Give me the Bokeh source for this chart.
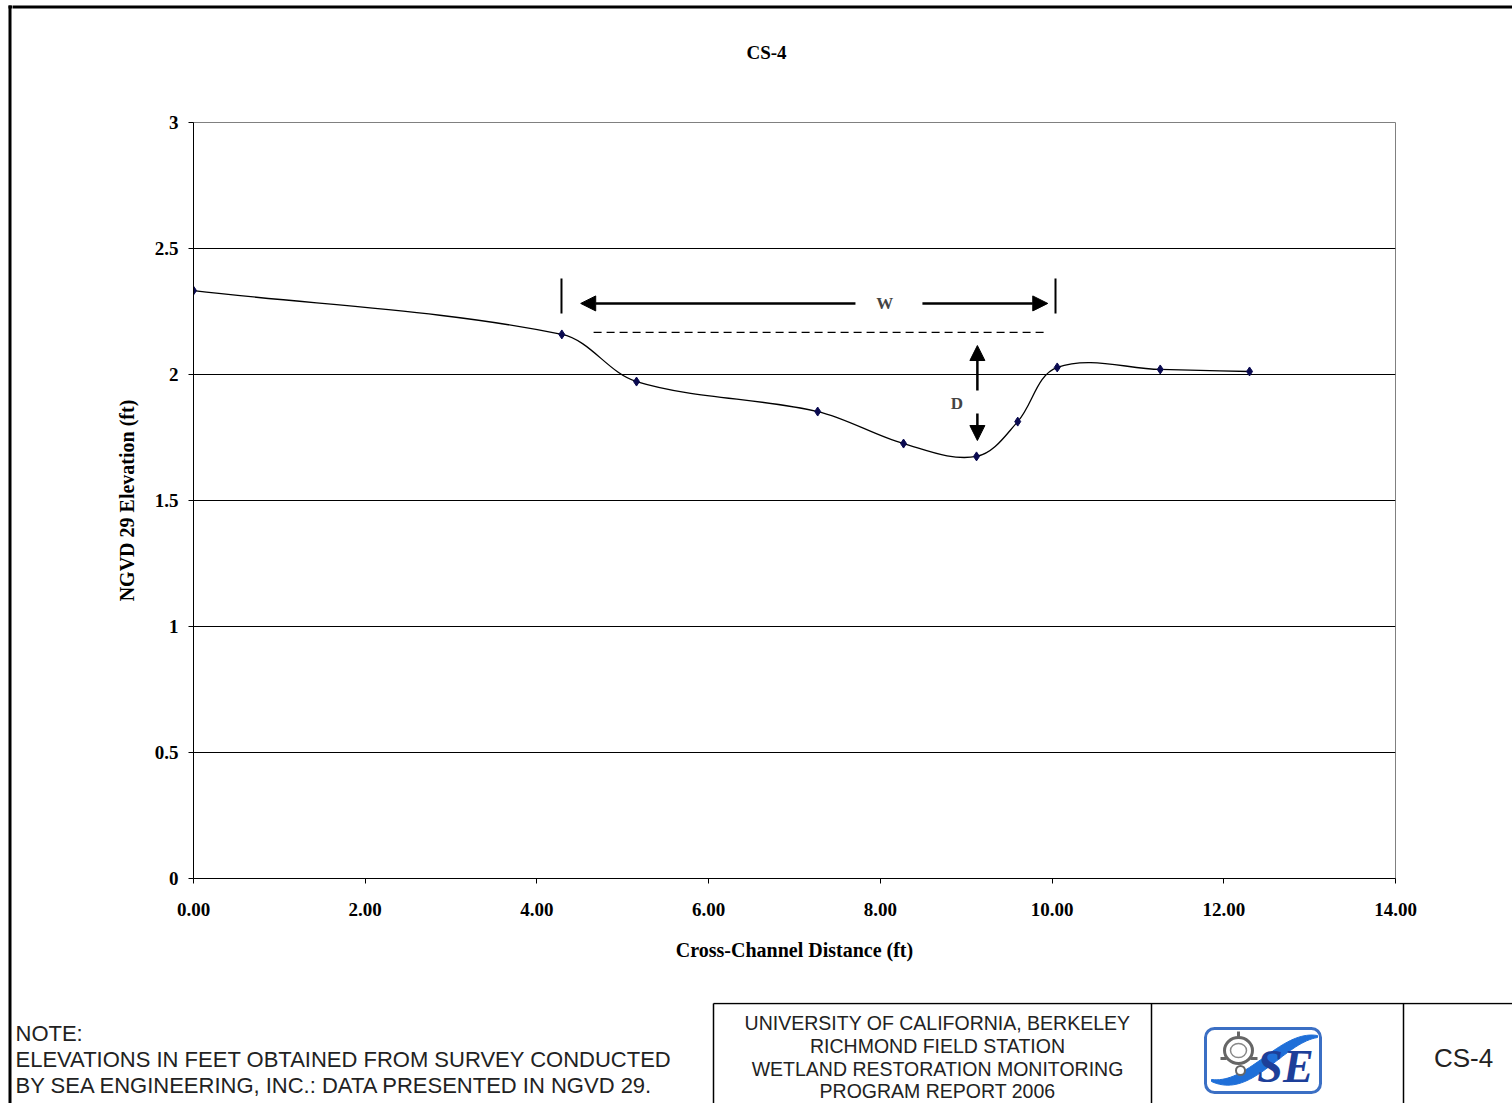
import numpy as np
from bokeh.plotting import figure
from bokeh.layouts import row, column
from bokeh.models import (FixedTicker, NumeralTickFormatter, Label, Arrow, NormalHead, Range1d)
from bokeh.core.properties import value
from bokeh.embed import file_html
from bokeh.resources import INLINE

# ---- data ----
distance = [0.00, 4.29, 5.16, 7.27, 8.27, 9.12, 9.60, 10.06, 11.26, 12.30]
elevation = [2.333, 2.159, 1.972, 1.853, 1.726, 1.675, 1.813, 2.028, 2.020, 2.012]

x_ticks = [0, 2, 4, 6, 8, 10, 12, 14]
y_ticks = [0, 0.5, 1, 1.5, 2, 2.5, 3]

# W / D dimension annotation (data units)
w_bar_x = [4.286, 10.04]
w_bar_y = [2.242, 2.381]
w_arrow_y = 2.282
w_left_arrow = [7.71, 4.51]
w_right_arrow = [8.49, 9.95]
w_label_x = 8.05
water_level = 2.167
water_x = [4.66, 9.92]
d_x = 9.13
d_up_arrow = [1.937, 2.115]
d_down_arrow = [1.845, 1.738]
d_label = [8.89, 1.885]

title_text = "CS-4"
note_lines = ["NOTE:",
              "ELEVATIONS IN FEET OBTAINED FROM SURVEY CONDUCTED",
              "BY SEA ENGINEERING, INC.: DATA PRESENTED IN NGVD 29."]
block_lines = ["UNIVERSITY OF CALIFORNIA, BERKELEY", "RICHMOND FIELD STATION",
               "WETLAND RESTORATION MONITORING", "PROGRAM REPORT 2006"]
sheet_id = "CS-4"

W, H = 1512, 1103
LEFT_W = 12
TOP_H = 100
BOT_H = 101
FL, FR, FT, FB = 193, 1395, 122, 878
CHART_H = H - TOP_H - BOT_H
SERIF = "Liberation Serif"
SANS = "Liberation Sans"


def blank(width, height, x0, x1, y0, y1):
    f = figure(width=width, height=height, x_range=Range1d(x0, x1), y_range=Range1d(y1, y0),
               output_backend="svg", toolbar_location=None, min_border=0,
               frame_align=False)
    f.axis.visible = False
    f.grid.visible = False
    f.outline_line_color = None
    f.background_fill_color = "white"
    f.border_fill_color = "white"
    return f


# ---- left border strip ----
left = blank(LEFT_W, H, 0, LEFT_W, 0, H)
left.quad(left=[8], right=[11], top=[5], bottom=[H + 5], fill_color="black", line_color=None)
left.quad(left=[8], right=[LEFT_W + 1], top=[5], bottom=[8], fill_color="black", line_color=None)

# ---- top strip (border + title) ----
top = blank(W - LEFT_W, TOP_H, LEFT_W, W, 0, TOP_H)
top.quad(left=[LEFT_W - 1], right=[W + 1], top=[5], bottom=[8], fill_color="black", line_color=None)
top.text(x=[766], y=[52], text=[title_text], text_font=value(SERIF), text_font_style="bold",
         text_font_size="19px", text_align="center", text_baseline="middle", text_color="black")

# ---- chart ----
p = figure(width=W - LEFT_W, height=CHART_H, x_range=(0, 14), y_range=(0, 3),
           output_backend="svg", toolbar_location=None, frame_align=False,
           min_border_left=FL - LEFT_W, min_border_right=W - FR,
           min_border_top=FT - TOP_H, min_border_bottom=(H - BOT_H) - FB)
p.background_fill_color = "white"
p.border_fill_color = "white"
p.outline_line_color = "#808080"
p.outline_line_width = 1

p.xaxis.ticker = FixedTicker(ticks=x_ticks)
p.xaxis.formatter = NumeralTickFormatter(format="0.00")
p.yaxis.ticker = FixedTicker(ticks=y_ticks)
p.yaxis.formatter = NumeralTickFormatter(format="0.[0]")
for ax in (p.xaxis, p.yaxis):
    ax.axis_line_color = "black"
    ax.axis_line_width = 1
    ax.major_tick_line_color = "black"
    ax.major_tick_in = 0
    ax.major_tick_out = 5
    ax.minor_tick_line_color = None
    ax.major_label_text_font = SERIF
    ax.major_label_text_font_style = "bold"
    ax.major_label_text_font_size = "19px"
    ax.major_label_text_color = "black"
    ax.axis_label_text_font = SERIF
    ax.axis_label_text_font_style = "bold"
    ax.axis_label_text_font_size = "20px"
    ax.axis_label_text_color = "black"
p.xaxis.axis_label = "Cross-Channel Distance (ft)"
p.yaxis.axis_label = "NGVD 29 Elevation (ft)"
p.xaxis.major_label_standoff = 19
p.xaxis.axis_label_standoff = 20
p.yaxis.major_label_standoff = 10
p.yaxis.axis_label_standoff = 14

p.xgrid.grid_line_color = None
p.ygrid.ticker = FixedTicker(ticks=[0.5, 1, 1.5, 2, 2.5])
p.ygrid.grid_line_color = "black"
p.ygrid.grid_line_width = 1

# smoothed line: chord-length Catmull-Rom bezier through the survey points
kx = (FR - FL) / 14.0
ky = (FB - FT) / 3.0
xa = np.array(distance) * kx
ya = np.array(elevation) * ky
n = len(xa)
d = np.hypot(np.diff(xa), np.diff(ya))
tx = np.zeros(n)
ty = np.zeros(n)
for i in range(n):
    a = max(i - 1, 0)
    b = min(i + 1, n - 1)
    L = np.hypot(xa[b] - xa[a], ya[b] - ya[a])
    tx[i] = (xa[b] - xa[a]) / L
    ty[i] = (ya[b] - ya[a]) / L
k = 1.0 / 3.0
x0s = xa[:-1] / kx
y0s = ya[:-1] / ky
x1s = xa[1:] / kx
y1s = ya[1:] / ky
cx0 = (xa[:-1] + tx[:-1] * d * k) / kx
cy0 = (ya[:-1] + ty[:-1] * d * k) / ky
cx1 = (xa[1:] - tx[1:] * d * k) / kx
cy1 = (ya[1:] - ty[1:] * d * k) / ky
p.bezier(x0=x0s, y0=y0s, x1=x1s, y1=y1s, cx0=cx0, cy0=cy0, cx1=cx1, cy1=cy1,
         line_color="black", line_width=1.3)
p.scatter(distance, elevation, marker="diamond", size=9,
          fill_color="#0a0a50", line_color="#0a0a50")

# W / D annotation
for bx in w_bar_x:
    p.segment(x0=[bx], y0=[w_bar_y[0]], x1=[bx], y1=[w_bar_y[1]], line_color="black", line_width=2)
p.segment(x0=[water_x[0]], y0=[water_level], x1=[water_x[1]], y1=[water_level],
          line_color="black", line_width=1.2, line_dash="8 5")
head = dict(size=15, fill_color="black", line_color="black")
p.add_layout(Arrow(end=NormalHead(**head), x_start=w_left_arrow[0], y_start=w_arrow_y,
                   x_end=w_left_arrow[1], y_end=w_arrow_y, line_width=2.5))
p.add_layout(Arrow(end=NormalHead(**head), x_start=w_right_arrow[0], y_start=w_arrow_y,
                   x_end=w_right_arrow[1], y_end=w_arrow_y, line_width=2.5))
p.add_layout(Arrow(end=NormalHead(**head), x_start=d_x, y_start=d_up_arrow[0],
                   x_end=d_x, y_end=d_up_arrow[1], line_width=2.5))
p.add_layout(Arrow(end=NormalHead(**head), x_start=d_x, y_start=d_down_arrow[0],
                   x_end=d_x, y_end=d_down_arrow[1], line_width=2.5))
p.add_layout(Label(x=w_label_x, y=w_arrow_y, text="W", text_font=SERIF, text_font_style="bold",
                   text_font_size="17px", text_align="center", text_baseline="middle"))
p.add_layout(Label(x=d_label[0], y=d_label[1], text="D", text_font=SERIF, text_font_style="bold",
                   text_font_size="17px", text_align="center", text_baseline="middle"))

# ---- bottom strip: note + title block ----
Y0 = H - BOT_H
bot = blank(W - LEFT_W, BOT_H, LEFT_W, W, Y0, H)
bot.text(x=[15, 15, 15], y=[1033, 1059, 1085], text=note_lines, text_font=value(SANS),
         text_font_size="22px", text_align="left", text_baseline="middle", text_color="#222222")
# title block frame
bot.segment(x0=[713], y0=[1003], x1=[W + 1], y1=[1003], line_color="black", line_width=1.5)
bot.segment(x0=[713, 1151, 1403], y0=[1003, 1003, 1003], x1=[713, 1151, 1403], y1=[H + 2, H + 2, H + 2],
            line_color="black", line_width=1.5)
bot.text(x=[937] * 4, y=[1022, 1045, 1068, 1090], text=block_lines, text_font=value(SANS),
         text_font_size="19.5px", text_align="center", text_baseline="middle", text_color="#222222")
bot.text(x=[1463], y=[1057], text=[sheet_id], text_font=value(SANS), text_font_size="26px",
         text_align="center", text_baseline="middle", text_color="#222222")

# logo (decorative)
bot.quad(left=[1205], right=[1320], top=[1028], bottom=[1092], fill_color="white",
         line_color="#3b6fc4", line_width=3, border_radius=9)
lx = np.linspace(1211, 1317, 40)
u = (lx - 1211) / 106.0
centre = 1080 - 44 * (3 * u ** 2 - 2 * u ** 3) + 10 * np.sin(np.pi * u) * (1 - u)
thick = 2 + 11 * np.sin(np.pi * u)
bot.patch(list(lx) + list(lx[::-1]), list(centre - thick / 2) + list((centre + thick / 2)[::-1]),
          fill_color="#1f6fd8", line_color="#1f6fd8", line_width=1)
bot.ellipse(x=[1238], y=[1050], width=[28], height=[26], fill_color="white",
            line_color="#666666", line_width=3)
bot.ellipse(x=[1238], y=[1050], width=[16], height=[14], fill_color="white",
            line_color="#888888", line_width=1.5)
bot.ellipse(x=[1240], y=[1070], width=[9], height=[9], fill_color="white",
            line_color="#666666", line_width=2)
bot.segment(x0=[1238], y0=[1037], x1=[1238], y1=[1031], line_color="#666666", line_width=3)
bot.segment(x0=[1220, 1250], y0=[1058, 1058], x1=[1226, 1257], y1=[1058, 1058],
            line_color="#666666", line_width=3)
bot.text(x=[1285], y=[1066], text=["SE"], text_font=value(SERIF), text_font_style="bold italic",
         text_font_size="46px", text_align="center", text_baseline="middle", text_color="#1d3f99")

layout = row(left, column(top, p, bot, spacing=0), spacing=0)
open("out.html", "w").write(file_html(layout, INLINE))
